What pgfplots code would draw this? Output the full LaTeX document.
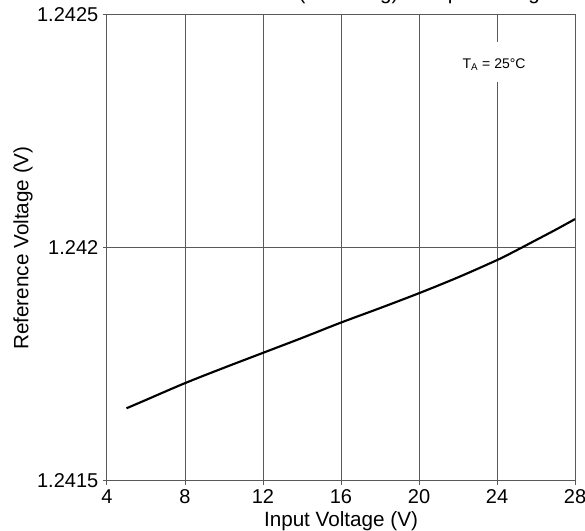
\documentclass[border=0pt]{standalone}
\usepackage{pgfplots}
\pgfplotsset{compat=1.18}
\usepackage{fontspec}
\setmainfont{Liberation Sans}
\pgfplotstableread{
x y
5 1.241656
6 1.241674
8 1.241710
10 1.241743
12 1.241775
14 1.241807
16 1.241840
18 1.241871
20 1.241903
22 1.241937
24 1.241974
25 1.241995
26 1.242017
27 1.242039
28 1.242062
}\curvedata
\begin{document}
\begin{tikzpicture}
\begin{axis}[
  scale only axis, width=351pt, height=349.5pt,
  xmin=4, xmax=28, ymin=1.2415, ymax=1.2425,
  xtick={4,8,12,16,20,24,28},
  ytick={1.2415,1.242,1.2425},
  yticklabels={1.2415,1.242,1.2425},
  grid=major,
  major grid style={black!65, line width=0.75pt},
  axis line style={black!65, line width=0.75pt},
  tick style={black!65, line width=0.75pt},
  tick align=outside, major tick length=3pt, tick pos=left,
  /pgf/number format/assume math mode=true,
  ticklabel style={font=\fontsize{15}{18}\selectfont},
  label style={font=\fontsize{15.5}{18}\selectfont},
  xlabel={Input Voltage (V)},
  ylabel={Reference Voltage (V)},
  xlabel style={at={(axis description cs:0.5,-0.0966)}, anchor=base},
  ylabel style={at={(axis description cs:-0.1681,0.5)}, anchor=base},
]
\addplot[black, line width=1.6pt, smooth] table[x=x, y=y] {\curvedata};
\node[fill=white, anchor=base, inner xsep=3pt, inner ysep=7pt, text height=13pt, text depth=3pt,
      font=\fontsize{10.5}{12}\selectfont] at (axis cs:23.85,1.242385) {T\textsubscript{A} = 25°C};
\end{axis}
\node[overlay, anchor=base east, font=\fontsize{15.5}{18}\selectfont] at (336.75pt,360.75pt) {Reference (1.2V Reg) vs Input Voltage};
\pgfresetboundingbox
\useasboundingbox (-80.25pt,-37.5pt) rectangle (358.5pt,360.75pt);
\end{tikzpicture}
\end{document}
